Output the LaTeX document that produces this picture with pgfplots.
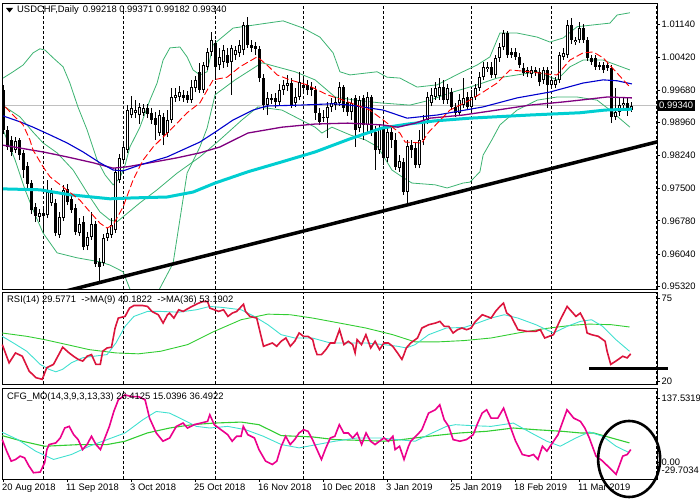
\documentclass[border=0pt]{standalone}
\usepackage{fontspec}
\setmainfont{Liberation Sans}
\usepackage{pgfplots}
\pgfplotsset{compat=1.18}
\usepackage{pgfplotstable}
\definecolor{bbgreen}{RGB}{60,179,113}
\definecolor{macyan}{RGB}{0,206,209}
\definecolor{mablue}{RGB}{0,0,205}
\definecolor{mapurple}{RGB}{128,0,128}
\definecolor{rsired}{RGB}{220,20,60}
\definecolor{lcyan}{RGB}{64,224,208}
\definecolor{lgreen}{RGB}{50,205,50}
\definecolor{pgray}{RGB}{192,192,192}
\newcommand{\lab}{\fontsize{9.4bp}{11bp}\selectfont}

\pgfplotstableread{
i o h l c
0 0.9969 0.9980 0.9871 0.9880
1 0.9880 0.9889 0.9835 0.9842
2 0.9858 0.9866 0.9822 0.9831
3 0.9835 0.9864 0.9829 0.9855
4 0.9858 0.9862 0.9813 0.9824
5 0.9829 0.9835 0.9773 0.9791
6 0.9800 0.9809 0.9751 0.9760
7 0.9762 0.9769 0.9693 0.9702
8 0.9709 0.9718 0.9676 0.9689
9 0.9687 0.9704 0.9676 0.9696
10 0.9696 0.9707 0.9653 0.9689
11 0.9691 0.9769 0.9684 0.9742
12 0.9718 0.9751 0.9711 0.9740
13 0.9718 0.9727 0.9644 0.9651
14 0.9647 0.9698 0.9640 0.9687
15 0.9684 0.9758 0.9678 0.9747
16 0.9749 0.9760 0.9713 0.9720
17 0.9727 0.9736 0.9696 0.9702
18 0.9707 0.9715 0.9647 0.9653
19 0.9651 0.9684 0.9644 0.9671
20 0.9676 0.9689 0.9613 0.9620
21 0.9622 0.9653 0.9613 0.9642
22 0.9642 0.9698 0.9636 0.9671
23 0.9671 0.9678 0.9576 0.9582
24 0.9587 0.9596 0.9542 0.9576
25 0.9584 0.9649 0.9578 0.9640
26 0.9640 0.9662 0.9633 0.9651
27 0.9647 0.9684 0.9640 0.9669
28 0.9658 0.9795 0.9651 0.9787
29 0.9769 0.9827 0.9762 0.9818
30 0.9813 0.9851 0.9807 0.9842
31 0.9835 0.9935 0.9829 0.9924
32 0.9913 0.9955 0.9906 0.9929
33 0.9918 0.9946 0.9906 0.9924
34 0.9913 0.9940 0.9893 0.9931
35 0.9918 0.9938 0.9911 0.9929
36 0.9929 0.9938 0.9906 0.9915
37 0.9918 0.9929 0.9893 0.9902
38 0.9906 0.9920 0.9858 0.9891
39 0.9873 0.9924 0.9866 0.9913
40 0.9909 0.9918 0.9846 0.9869
41 0.9873 0.9924 0.9864 0.9902
42 0.9902 0.9973 0.9895 0.9953
43 0.9951 0.9973 0.9942 0.9958
44 0.9953 0.9977 0.9944 0.9964
45 0.9958 0.9969 0.9942 0.9951
46 0.9958 0.9966 0.9940 0.9946
47 0.9946 0.9991 0.9940 0.9975
48 0.9973 1.0000 0.9964 0.9991
49 1.0009 1.0029 0.9962 0.9969
50 0.9969 1.0031 0.9962 1.0024
51 1.0020 1.0062 1.0013 1.0053
52 1.0053 1.0097 1.0044 1.0080
53 1.0073 1.0080 0.9991 1.0020
54 1.0024 1.0062 1.0013 1.0042
55 1.0031 1.0069 1.0017 1.0057
56 1.0046 1.0062 1.0020 1.0029
57 1.0031 1.0069 0.9958 1.0062
58 1.0046 1.0066 1.0035 1.0057
59 1.0051 1.0080 1.0042 1.0069
60 1.0057 1.0120 1.0046 1.0113
61 1.0113 1.0131 1.0062 1.0069
62 1.0069 1.0080 1.0053 1.0062
63 1.0066 1.0075 1.0046 1.0060
64 1.0060 1.0066 0.9986 0.9995
65 0.9995 1.0004 0.9924 0.9935
66 0.9935 0.9964 0.9913 0.9951
67 0.9951 0.9960 0.9938 0.9946
68 0.9951 0.9962 0.9929 0.9942
69 0.9942 0.9982 0.9935 0.9969
70 0.9969 0.9991 0.9958 0.9980
71 0.9977 1.0002 0.9966 0.9984
72 0.9984 0.9995 0.9929 0.9935
73 0.9940 0.9973 0.9931 0.9953
74 0.9953 1.0009 0.9946 0.9986
75 0.9980 0.9995 0.9960 0.9973
76 0.9980 0.9991 0.9958 0.9969
77 0.9975 0.9986 0.9955 0.9969
78 0.9969 0.9977 0.9902 0.9918
79 0.9918 0.9929 0.9891 0.9898
80 0.9909 0.9924 0.9898 0.9906
81 0.9906 0.9942 0.9862 0.9931
82 0.9931 0.9951 0.9920 0.9940
83 0.9935 0.9953 0.9924 0.9942
84 0.9940 0.9986 0.9933 0.9975
85 0.9975 0.9980 0.9920 0.9929
86 0.9942 0.9953 0.9911 0.9920
87 0.9920 0.9951 0.9902 0.9940
88 0.9951 0.9958 0.9842 0.9880
89 0.9884 0.9955 0.9875 0.9946
90 0.9951 0.9958 0.9858 0.9891
91 0.9891 0.9964 0.9875 0.9953
92 0.9953 0.9958 0.9866 0.9875
93 0.9875 0.9889 0.9791 0.9835
94 0.9835 0.9893 0.9827 0.9884
95 0.9884 0.9902 0.9802 0.9818
96 0.9818 0.9891 0.9809 0.9875
97 0.9875 0.9889 0.9840 0.9858
98 0.9858 0.9873 0.9791 0.9798
99 0.9795 0.9824 0.9787 0.9811
100 0.9809 0.9818 0.9736 0.9742
101 0.9742 0.9858 0.9718 0.9844
102 0.9846 0.9858 0.9818 0.9835
103 0.9840 0.9853 0.9795 0.9802
104 0.9802 0.9880 0.9795 0.9858
105 0.9858 0.9913 0.9846 0.9902
106 0.9902 0.9964 0.9893 0.9953
107 0.9940 0.9973 0.9933 0.9958
108 0.9953 0.9986 0.9946 0.9973
109 0.9955 0.9995 0.9946 0.9975
110 0.9975 0.9991 0.9938 0.9946
111 0.9946 0.9982 0.9938 0.9973
112 0.9964 0.9973 0.9924 0.9931
113 0.9931 0.9940 0.9909 0.9918
114 0.9918 0.9960 0.9911 0.9946
115 0.9935 0.9995 0.9929 0.9951
116 0.9953 0.9964 0.9924 0.9931
117 0.9931 0.9969 0.9918 0.9953
118 0.9953 0.9982 0.9946 0.9973
119 0.9973 1.0009 0.9966 0.9997
120 0.9997 1.0031 0.9991 1.0020
121 1.0015 1.0031 1.0009 1.0020
122 1.0020 1.0031 0.9995 1.0002
123 1.0002 1.0046 0.9995 1.0040
124 1.0040 1.0073 1.0031 1.0064
125 1.0064 1.0102 1.0057 1.0095
126 1.0095 1.0100 1.0040 1.0046
127 1.0053 1.0062 1.0040 1.0046
128 1.0053 1.0062 1.0035 1.0042
129 1.0042 1.0051 1.0017 1.0024
130 1.0017 1.0029 1.0000 1.0006
131 1.0006 1.0020 0.9997 1.0013
132 1.0004 1.0022 0.9995 1.0013
133 1.0013 1.0020 1.0000 1.0009
134 1.0009 1.0017 0.9977 0.9986
135 0.9991 1.0020 0.9982 1.0013
136 1.0013 1.0020 0.9929 0.9980
137 0.9980 1.0000 0.9973 0.9991
138 0.9980 0.9997 0.9973 0.9991
139 0.9991 1.0053 0.9984 1.0046
140 1.0042 1.0062 1.0035 1.0051
141 1.0046 1.0124 1.0040 1.0113
142 1.0113 1.0128 1.0071 1.0080
143 1.0075 1.0086 1.0069 1.0080
144 1.0080 1.0120 1.0073 1.0106
145 1.0106 1.0115 1.0073 1.0080
146 1.0080 1.0086 1.0033 1.0040
147 1.0040 1.0046 1.0024 1.0031
148 1.0040 1.0046 1.0013 1.0020
149 1.0024 1.0031 1.0013 1.0020
150 1.0024 1.0031 1.0006 1.0013
151 1.0024 1.0031 1.0011 1.0017
152 1.0017 1.0024 0.9895 0.9909
153 0.9909 0.9973 0.9902 0.9920
154 0.9920 0.9951 0.9911 0.9935
155 0.9935 0.9951 0.9924 0.9940
156 0.9940 0.9951 0.9911 0.9924
157 0.9924 0.9942 0.9920 0.9934
}\candles

\pgfplotsset{
 mtpanel/.style={scale only axis, width=655bp, xmin=-0.375, xmax=163.375,
  axis line style={black, line width=0.8bp},
  tick align=outside, major tick length=3bp,
  tick style={black, line width=0.8bp},
  ytick pos=right, yticklabel pos=right,
  scaled y ticks=false,
  yticklabel style={font=\lab, inner sep=1.5bp},
  xticklabel style={font=\lab},
  major grid style={black, line width=0.7bp, dash pattern=on 3bp off 2bp}},
 mtgrid/.style={xtick={9.875,29.875,52.875,74.875,94.875,116.875,136.875,163.125},
  xticklabels={}, xmajorgrids, xmajorticks=false},
 candle/.style={draw=none, mark=none, forget plot, error bars/.cd, y dir=plus, y explicit, error mark=none}
}

\begin{document}
\begin{tikzpicture}[x=1bp,y=1bp]
\useasboundingbox (0,0) rectangle (700,500);

% ---------------- main price panel ----------------
\begin{axis}[mtpanel, mtgrid, at={(2bp,497bp)}, anchor=north west, height=286bp,
  ymin=0.95268, ymax=1.01617,
  ytick={0.9532,0.9604,0.9678,0.9750,0.9824,0.9896,0.9968,1.0042,1.0114},
  yticklabels={0.95320,0.96040,0.96780,0.97500,0.98240,0.98960,0.99680,1.00420,1.01140}]
\addplot[pgray, line width=0.8bp] coordinates {(-1,0.9934) (170,0.9934)};
% Bollinger type bands
\addplot[bbgreen, line width=0.8bp] coordinates {(-0.1,0.9995)(2.4,1.0009)(4.9,1.0024)(7.4,1.0051)(9.1,1.0060)(10.4,1.0057)(12.4,1.0040)(14.9,1.0020)(16.6,0.9984)(18.6,0.9931)(20.9,0.9880)(23.4,0.9813)(25.4,0.9780)(27.4,0.9758)(29.1,0.9773)(30.4,0.9802)(31.6,0.9842)(34.1,0.9886)(36.6,0.9946)(38.4,0.9984)(39.9,1.0035)(41.6,1.0062)(44.1,1.0064)(45.9,1.0042)(47.4,1.0013)(49.1,1.0002)(50.9,1.0009)(52.4,1.0069)(57.4,1.0106)(65.9,1.0117)(69.9,1.0122)(74.9,1.0106)(79.1,1.0086)(82.4,1.0051)(84.1,1.0009)(86.6,1.0002)(93.4,1.0009)(95.9,0.9997)(99.1,0.9995)(103.4,0.9975)(108.4,0.9980)(114.1,1.0006)(118.4,1.0024)(121.6,1.0042)(124.1,1.0095)(128.4,1.0095)(133.4,1.0086)(136.6,1.0075)(139.9,1.0084)(143.4,1.0109)(147.4,1.0113)(151.6,1.0117)(153.4,1.0135)(156.6,1.0140)};
\addplot[bbgreen, line width=0.8bp] coordinates {(38.6,0.9520)(42.4,0.9584)(45.9,0.9784)(49.1,0.9842)(50.9,0.9884)(52.9,0.9958)(57.9,0.9991)(64.6,1.0029)(72.9,1.0009)(77.9,0.9991)(82.9,0.9953)(87.9,0.9946)(94.1,0.9940)(101.6,0.9935)(106.6,0.9946)(111.6,0.9962)(118.4,0.9980)(123.4,0.9995)(128.4,1.0002)(133.4,1.0009)(138.4,0.9991)(141.6,1.0020)(144.9,1.0035)(149.9,1.0035)(156.6,1.0013)};
\addplot[bbgreen, line width=0.8bp] coordinates {(0.4,0.9931)(4.1,0.9909)(7.4,0.9875)(9.9,0.9851)(13.4,0.9829)(17.4,0.9791)(21.6,0.9731)(24.1,0.9698)(26.6,0.9680)(28.4,0.9676)(34.1,0.9718)(38.4,0.9747)(43.4,0.9784)(49.1,0.9820)(54.1,0.9858)(59.6,0.9902)(63.6,0.9931)(69.6,0.9924)(77.9,0.9886)(79.6,0.9873)(82.1,0.9886)(86.6,0.9869)(90.4,0.9858)(93.6,0.9842)(97.1,0.9791)(99.6,0.9776)(102.1,0.9762)(107.9,0.9758)(110.9,0.9751)(114.9,0.9762)(116.6,0.9764)(119.1,0.9787)(119.9,0.9824)(122.1,0.9858)(124.1,0.9891)(128.4,0.9924)(133.4,0.9946)(138.4,0.9953)(143.4,0.9953)(148.4,0.9946)(151.6,0.9924)(156.6,0.9886)};
\addplot[bbgreen, line width=0.8bp] coordinates {(-0.1,0.9880)(2.9,0.9813)(5.4,0.9747)(7.4,0.9702)(9.9,0.9651)(13.4,0.9607)(18.4,0.9596)(24.1,0.9587)(26.6,0.9580)(29.9,0.9565)(31.9,0.9520)};
% candles: wicks, bodies, hollow interior of rising candles
\addplot[candle, error bar style={draw=black, line width=0.8bp}]
  table[x=i, y=l, y error expr={\thisrow{h}-\thisrow{l}}] \candles;
\addplot[candle, error bar style={draw=black, line width=3bp}]
  table[x=i, y expr={min(\thisrow{o},\thisrow{c})}, y error expr={abs(\thisrow{c}-\thisrow{o})}] \candles;
\addplot[candle, error bar style={draw=white, line width=1.1bp}]
  table[x=i, y expr={\thisrow{o}+0.00022}, y error expr={(\thisrow{c}>\thisrow{o})*max(\thisrow{c}-\thisrow{o}-0.00044,0)}] \candles;
% moving averages
\addplot[macyan, line width=3bp] coordinates {(-0.1,0.9749)(9.1,0.9747)(16.6,0.9736)(26.6,0.9727)(32.4,0.9729)(40.9,0.9731)(47.4,0.9742)(52.9,0.9762)(61.1,0.9787)(69.6,0.9809)(77.9,0.9831)(86.6,0.9860)(94.6,0.9884)(101.1,0.9893)(107.9,0.9900)(116.6,0.9906)(131.6,0.9913)(144.1,0.9918)(150.4,0.9924)(157.1,0.9926)};
\addplot[mapurple, line width=1.3bp] coordinates {(-0.1,0.9846)(9.9,0.9831)(15.9,0.9820)(22.4,0.9807)(27.4,0.9795)(30.9,0.9798)(36.6,0.9807)(43.4,0.9818)(49.1,0.9829)(54.1,0.9842)(61.1,0.9873)(69.6,0.9886)(77.9,0.9893)(86.1,0.9895)(90.4,0.9893)(94.6,0.9891)(98.6,0.9886)(102.9,0.9895)(106.6,0.9906)(114.9,0.9913)(123.4,0.9924)(131.6,0.9935)(139.9,0.9942)(144.1,0.9946)(150.9,0.9953)(157.1,0.9951)};
\addplot[mablue, line width=1.1bp] coordinates {(-0.1,0.9911)(4.1,0.9898)(7.4,0.9886)(11.6,0.9869)(15.9,0.9851)(19.9,0.9831)(24.1,0.9807)(27.4,0.9791)(29.9,0.9789)(34.1,0.9802)(40.9,0.9820)(49.1,0.9853)(52.9,0.9875)(57.4,0.9902)(62.4,0.9924)(65.9,0.9933)(74.1,0.9935)(82.4,0.9938)(86.6,0.9935)(94.9,0.9924)(100.9,0.9906)(108.4,0.9913)(119.9,0.9931)(128.4,0.9951)(136.6,0.9964)(144.9,0.9984)(149.9,0.9991)(153.4,0.9989)(157.1,0.9982)};
\addplot[red, line width=0.9bp, dash pattern=on 7bp off 3bp] coordinates {(0.4,0.9931)(2.4,0.9913)(4.9,0.9891)(6.6,0.9858)(7.4,0.9835)(9.9,0.9798)(11.6,0.9776)(14.9,0.9753)(19.1,0.9724)(21.6,0.9698)(24.1,0.9673)(25.9,0.9662)(27.4,0.9669)(29.9,0.9709)(32.4,0.9769)(34.9,0.9813)(37.4,0.9842)(40.9,0.9873)(43.4,0.9895)(45.9,0.9918)(49.1,0.9940)(52.4,0.9991)(55.9,0.9997)(59.1,1.0020)(63.4,1.0042)(65.9,1.0024)(68.4,1.0002)(71.6,0.9991)(75.9,0.9980)(80.9,0.9958)(84.9,0.9946)(91.6,0.9924)(94.9,0.9902)(99.1,0.9873)(100.4,0.9853)(104.6,0.9851)(106.1,0.9873)(111.6,0.9924)(116.6,0.9946)(119.9,0.9964)(123.4,0.9984)(126.6,1.0013)(131.6,1.0009)(135.9,1.0004)(138.4,1.0002)(141.6,1.0035)(144.9,1.0051)(147.4,1.0053)(149.9,1.0040)(153.4,1.0006)(156.6,0.9975)};
% trend line
\addplot[black, line width=3.5bp] coordinates {(10,0.95098) (170,0.98682)};
\coordinate (cp) at (axis cs:163.375,0.9934);
\end{axis}

% ---------------- RSI panel ----------------
\begin{axis}[mtpanel, mtgrid, at={(2bp,208bp)}, anchor=north west, height=92bp,
  ymin=18.01, ymax=78.98, ytick={20,75}, yticklabels={20,75}, clip=false]
\addplot[lgreen, line width=0.9bp] coordinates {(-0.32,51.8)(5.82,49.6)(10.3,47.4)(15.9,44.1)(21.4,40.8)(28.1,38.6)(33.7,38.0)(39.3,39.7)(46.0,44.1)(52.7,52.9)(59.4,60.6)(66.1,64.3)(71.7,63.9)(77.3,61.7)(84.0,58.4)(90.6,55.1)(97.3,50.7)(102.9,45.9)(108.5,45.9)(115.2,46.8)(121.9,48.5)(128.6,51.8)(135.3,54.7)(142.0,56.9)(146.4,57.7)(152.0,57.3)(156.5,55.8)};
\addplot[lcyan, line width=0.9bp] coordinates {(-0.32,49.6)(2.47,45.2)(5.82,39.7)(9.17,31.0)(11.4,27.7)(13.1,26.1)(14.75,27.7)(17.0,32.1)(19.8,35.4)(22.6,36.4)(25.9,37.5)(28.1,45.2)(30.4,56.2)(32.6,62.8)(36.0,66.1)(39.3,66.1)(43.8,65.6)(48.2,67.2)(51.6,69.4)(54.9,68.7)(59.4,67.2)(62.7,62.8)(66.1,57.3)(69.4,50.7)(72.8,48.5)(77.2,48.5)(81.7,45.2)(86.2,45.2)(90.6,45.2)(95.1,44.1)(98.5,43.0)(100.7,41.9)(102.9,44.1)(106.3,50.7)(110.7,55.1)(115.2,55.5)(118.5,58.4)(121.9,61.7)(125.2,63.9)(128.6,61.7)(133.1,57.3)(137.5,51.8)(140.9,56.2)(144.2,59.5)(147.0,60.6)(149.8,56.2)(153.1,47.4)(156.5,39.7)};
\addplot[rsired, line width=1.6bp] coordinates {(-0.3,44.1)(1.4,32.0)(3.0,38.6)(4.7,36.4)(6.4,26.6)(8.1,22.2)(9.7,21.1)(10.8,28.8)(12.5,31.0)(14.8,42.4)(16.4,38.6)(17.5,36.4)(18.7,34.3)(19.8,33.2)(20.9,36.4)(22.0,37.5)(23.1,31.0)(24.2,31.0)(24.8,39.7)(25.9,41.9)(27.0,42.4)(27.9,55.1)(28.7,61.7)(30.4,62.8)(31.5,68.3)(32.6,70.0)(34.8,70.0)(36.0,69.4)(37.1,66.1)(38.7,63.9)(39.9,58.4)(41.0,63.9)(41.5,65.0)(42.6,61.7)(43.8,67.2)(44.9,66.1)(46.0,67.8)(47.1,69.4)(48.8,71.6)(49.9,72.7)(51.0,72.7)(51.6,68.3)(52.7,67.2)(53.8,66.1)(55.0,67.2)(56.1,62.8)(57.2,65.0)(58.3,66.1)(60.0,70.9)(60.5,66.1)(61.6,62.8)(63.3,61.7)(63.9,55.1)(65.0,43.0)(66.1,44.1)(67.2,45.2)(68.3,43.0)(69.4,46.3)(70.6,48.5)(71.7,43.0)(72.8,46.3)(73.9,51.8)(75.0,49.6)(76.1,49.6)(77.3,47.4)(77.8,41.9)(78.4,37.5)(79.5,37.5)(80.6,40.8)(81.7,45.2)(82.8,45.2)(84.0,54.0)(85.1,44.1)(86.2,46.3)(87.3,44.1)(87.9,38.6)(88.4,47.4)(89.5,44.1)(90.6,50.7)(91.8,41.9)(92.9,46.3)(94.0,40.8)(95.1,45.2)(96.2,45.2)(97.3,43.0)(98.5,38.6)(99.6,34.3)(100.1,37.5)(100.7,41.9)(101.8,45.2)(103.5,48.5)(104.6,55.1)(106.3,57.3)(108.0,58.4)(109.1,59.5)(110.2,56.2)(111.3,56.2)(112.4,51.8)(113.5,54.0)(114.6,55.1)(115.8,54.0)(116.9,55.1)(118.0,59.5)(119.7,63.9)(120.8,62.8)(121.9,61.7)(123.0,66.1)(124.1,69.4)(125.0,71.6)(125.8,65.0)(126.9,62.8)(128.6,54.0)(130.8,52.9)(133.0,52.9)(134.2,54.0)(135.3,48.5)(136.4,49.6)(137.5,50.7)(139.2,60.6)(140.9,69.4)(142.0,66.1)(143.1,62.8)(144.2,65.0)(145.3,59.5)(145.9,51.8)(147.0,50.7)(148.7,49.6)(150.4,46.3)(150.9,39.7)(151.8,31.0)(153.1,33.2)(154.8,36.4)(155.9,35.3)(156.8,38.0)};
\addplot[black, line width=3bp] coordinates {(146.4,28.3) (166.1,28.3)};
\end{axis}

% ---------------- CFG panel ----------------
\begin{axis}[mtpanel, at={(2bp,112bp)}, anchor=north west, height=91bp,
  ymin=-29.7034, ymax=137.5319, ytick={-14.5,1.5,119.15}, yticklabels={-29.7034,0.00,137.5319},
  yticklabel style={inner sep=0.6bp, xshift=0.9bp},
  clip=false, xtick pos=bottom,
  xtick={0,16,32,48,64,80,96,112,128,144},
  xticklabels={20 Aug 2018,11 Sep 2018,3 Oct 2018,25 Oct 2018,16 Nov 2018,10 Dec 2018,3 Jan 2019,25 Jan 2019,18 Feb 2019,11 Mar 2019},
  xticklabel style={anchor=north west, xshift=-3bp, inner sep=1.5bp},
  extra x ticks={9.875,29.875,52.875,74.875,94.875,116.875,136.875,163.125},
  extra x tick labels={},
  extra x tick style={grid=major, major tick length=0pt}]
\addplot[lgreen, line width=1.1bp] coordinates {(-0.32,50.0)(4.71,39.7)(10.29,30.5)(19.21,33.6)(25.91,33.6)(30.38,39.7)(35.95,54.9)(41.54,64.0)(47.12,70.1)(52.70,73.1)(59.39,74.9)(63.86,70.1)(69.44,50.0)(77.25,47.6)(82.83,42.7)(88.41,41.5)(95.11,39.7)(99.57,42.7)(106.27,48.8)(114.08,54.9)(120.78,57.9)(127.47,64.0)(133.06,60.9)(139.75,57.9)(144.22,54.9)(147.56,54.9)(152.02,45.7)(156.49,36.6)};
\addplot[lcyan, line width=0.9bp] coordinates {(-0.32,56.1)(3.59,42.7)(8.05,21.4)(12.52,6.2)(16.98,15.3)(21.45,30.5)(25.91,42.7)(30.38,54.9)(34.84,79.2)(38.19,94.4)(41.54,91.4)(44.88,79.2)(48.23,67.0)(51.58,64.0)(56.04,67.0)(60.51,60.9)(64.97,48.8)(69.44,33.6)(73.90,27.5)(78.37,33.6)(82.83,39.7)(88.41,45.7)(93.99,45.7)(98.46,42.7)(102.92,39.7)(106.27,51.8)(110.73,67.0)(112.96,70.1)(117.43,68.2)(121.89,67.0)(127.47,73.1)(131.94,54.9)(135.84,39.7)(139.19,30.5)(143.10,45.7)(146.45,56.7)(149.80,48.8)(153.14,30.5)(156.49,18.4)};
\addplot[magenta, line width=1.6bp] coordinates {(-0.32,42.7)(0.80,21.4)(1.92,3.1)(3.03,6.2)(4.15,12.3)(5.26,9.2)(6.38,-6.0)(7.50,-18.2)(9.17,-17.0)(10.29,0.1)(10.84,24.4)(11.40,33.6)(13.08,36.6)(14.19,45.7)(15.31,64.0)(16.42,67.0)(17.54,51.8)(18.66,42.7)(19.77,24.4)(20.89,33.6)(22.00,48.8)(23.12,33.6)(24.24,24.4)(25.35,45.7)(26.47,67.0)(27.58,94.4)(28.70,115.7)(30.38,124.8)(32.05,121.8)(33.72,121.8)(35.40,115.7)(36.51,82.2)(38.19,54.9)(39.86,39.7)(41.54,45.7)(43.21,67.0)(44.88,73.1)(46.00,64.0)(47.67,70.1)(49.35,73.1)(51.02,76.2)(51.58,88.3)(52.70,70.1)(54.37,60.9)(56.04,51.8)(57.16,39.7)(58.28,48.8)(59.39,48.8)(59.95,67.0)(61.07,51.8)(62.74,45.7)(63.86,24.4)(65.53,3.1)(67.20,-3.0)(68.32,3.1)(69.44,30.5)(70.55,48.8)(71.67,33.6)(72.79,42.7)(73.90,54.9)(75.02,60.9)(76.13,57.9)(77.25,42.7)(78.37,24.4)(79.48,6.2)(80.60,27.5)(81.71,45.7)(82.83,48.8)(83.95,70.1)(85.06,54.9)(86.18,54.9)(87.29,45.7)(88.41,54.9)(89.53,33.6)(90.64,54.9)(91.76,39.7)(92.88,33.6)(93.99,39.7)(95.11,45.7)(96.22,39.7)(97.34,48.8)(97.90,24.4)(99.01,30.5)(100.13,6.2)(101.25,30.5)(101.80,39.7)(103.48,51.8)(104.59,60.9)(106.27,91.4)(107.94,97.5)(109.06,106.6)(110.17,79.2)(111.29,67.0)(112.41,42.7)(114.08,39.7)(115.75,42.7)(117.43,51.8)(118.55,73.1)(119.66,91.4)(120.78,97.5)(121.89,82.2)(123.57,82.2)(125.02,100.5)(126.36,73.1)(128.03,39.7)(129.70,15.3)(131.38,12.3)(132.49,15.3)(133.61,6.2)(134.73,30.5)(135.84,21.4)(136.96,33.6)(138.63,51.8)(140.87,97.5)(142.54,82.2)(144.22,76.2)(145.33,64.0)(146.45,45.7)(148.12,12.3)(149.80,3.1)(151.47,-9.0)(153.14,-21.2)(154.81,12.3)(155.93,15.3)(156.82,24.4)};
\draw[black, line width=2.6bp] (axis cs:156.4,7.05) ellipse [x radius=31bp, y radius=38bp];
\end{axis}

% ---------------- texts ----------------
\fill[black] (6,492) -- (13,492) -- (9.5,487.5) -- cycle;
\node[anchor=west, inner sep=0, font=\lab] at (17,490) {USDCHF,Daily\hspace{4bp}0.99218 0.99371 0.99182 0.99340};
\node[anchor=west, inner sep=0, font=\lab] at (7,200) {RSI(14) 29.5771 \ ->MA(9) 40.1822 \ ->MA(36) 53.1902};
\node[anchor=west, inner sep=0, font=\lab] at (7,103) {CFG\_MO(14,3,9,3,13,33) 26.4125 15.0396 36.4922};
\node[anchor=west, fill=black, text=white, font=\lab, inner xsep=2bp, inner ysep=2bp] at (cp) {0.99340};
\end{tikzpicture}
\end{document}
